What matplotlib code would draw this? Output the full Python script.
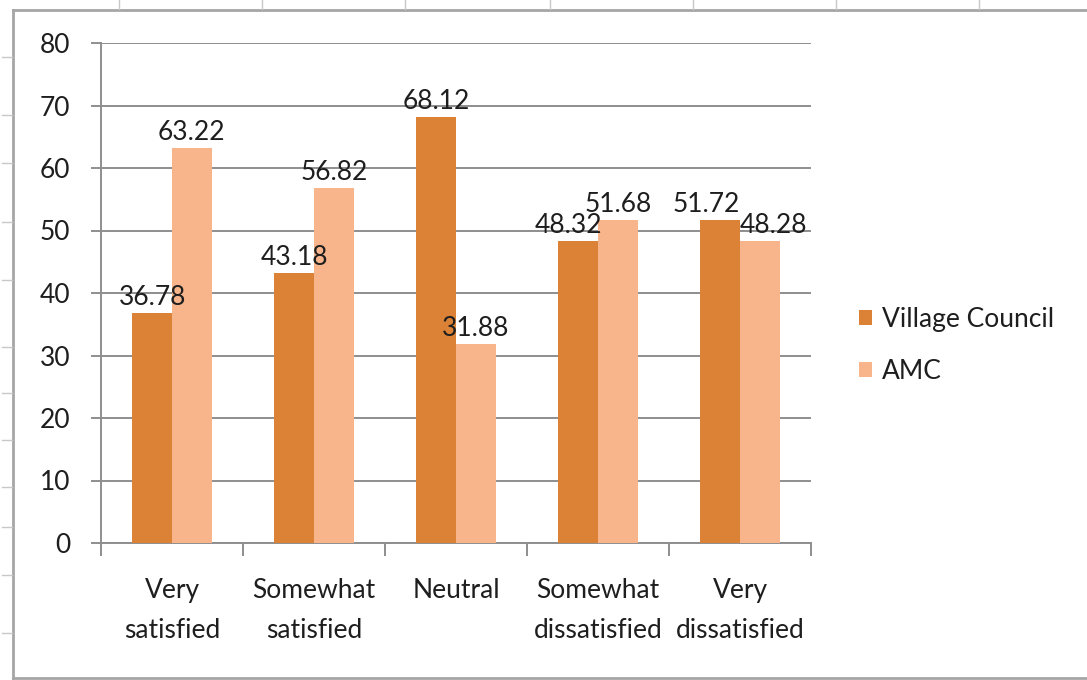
import matplotlib
matplotlib.use("Agg")
import matplotlib.pyplot as plt
from matplotlib.lines import Line2D
import numpy as np

# Survey results: satisfaction with local governing body (%)
categories = ["Very\nsatisfied", "Somewhat\nsatisfied", "Neutral",
              "Somewhat\ndissatisfied", "Very\ndissatisfied"]
village_council = [36.78, 43.18, 68.12, 48.32, 51.72]
amc = [63.22, 56.82, 31.88, 51.68, 48.28]
series_names = ["Village Council", "AMC"]
y_ticks = [0, 10, 20, 30, 40, 50, 60, 70, 80]

DARK = "#DC8236"
LIGHT = "#F8B48A"
GRID = "#8E8E8E"
TEXT = "#1E1E1E"
FONT = ["Lato", "DejaVu Sans"]
FS = 19

W, H = 1087, 680
fig = plt.figure(figsize=(W / 100, H / 100), dpi=100)
fig.patch.set_facecolor("white")

# Spreadsheet frame around the chart object
border = dict(color="#A6A6A6", lw=2.0, transform=fig.transFigure, clip_on=False)
fig.add_artist(Line2D([13 / W, 13 / W], [1 - 10 / H, 1 - 678 / H], **border))
fig.add_artist(Line2D([13 / W, 1.0], [1 - 10 / H, 1 - 10 / H], **border))
fig.add_artist(Line2D([13 / W, 1.0], [1 - 678 / H, 1 - 678 / H], **border))
cell = dict(color="#C8C8C8", lw=1.0, transform=fig.transFigure, clip_on=False)
for cx in [119, 262, 405, 550, 693, 836, 979]:
    fig.add_artist(Line2D([cx / W, cx / W], [1.0, 1 - 9 / H], **cell))
for cy in [57, 115, 163, 222, 280, 347, 393, 440, 487, 527, 575, 633]:
    fig.add_artist(Line2D([2 / W, 12 / W], [1 - cy / H, 1 - cy / H], **cell))

ax = fig.add_axes([101 / W, 1 - 543 / H, 710 / W, 500 / H])
x = np.arange(len(categories))
bw = 0.28
b1 = ax.bar(x - bw / 2, village_council, bw, color=DARK, label=series_names[0], zorder=3)
b2 = ax.bar(x + bw / 2, amc, bw, color=LIGHT, label=series_names[1], zorder=3)

ax.set_xlim(-0.5, len(categories) - 0.5)
ax.set_ylim(0, 80)
ax.set_yticks(y_ticks)
ax.set_yticklabels([str(v) for v in y_ticks], fontsize=FS, family=FONT, color=TEXT)
ax.yaxis.grid(True, color=GRID, lw=1.4, zorder=0)
ax.set_axisbelow(True)

ax.set_xticks(x)
ax.set_xticklabels(categories, fontsize=FS, family=FONT, color=TEXT, linespacing=1.75)
ax.set_xticks(np.arange(len(categories) + 1) - 0.5, minor=True)
ax.tick_params(axis="x", which="major", length=0, pad=25)
ax.tick_params(axis="x", which="minor", length=9, width=1.4, color=GRID, direction="out")
ax.tick_params(axis="y", length=7, width=1.4, color=GRID, pad=15)

for side in ["top", "right"]:
    ax.spines[side].set_visible(False)
for side in ["left", "bottom"]:
    ax.spines[side].set_color(GRID)
    ax.spines[side].set_linewidth(1.4)

# Value labels above each bar; a few are nudged sideways to avoid overlaps
nudge = {(0, 3): -7, (0, 4): -10, (1, 4): 10}
for si, bars in enumerate([b1, b2]):
    for ci, rect in enumerate(bars):
        val = rect.get_height()
        ax.annotate(f"{val:.2f}", (rect.get_x() + rect.get_width() / 2, val),
                    xytext=(nudge.get((si, ci), 0), 2), textcoords="offset points",
                    ha="center", va="bottom", fontsize=FS, family=FONT, color=TEXT,
                    zorder=4)

leg = fig.legend(handles=[b1, b2], labels=series_names,
                 loc="upper left", bbox_to_anchor=(848 / W, 1 - 296 / H),
                 frameon=False, handlelength=0.5, handleheight=0.5,
                 handletextpad=0.4, labelspacing=1.05, borderaxespad=0,
                 prop={"family": FONT, "size": FS})
for t in leg.get_texts():
    t.set_color(TEXT)

fig.savefig("out.png", dpi=100, facecolor="white")
